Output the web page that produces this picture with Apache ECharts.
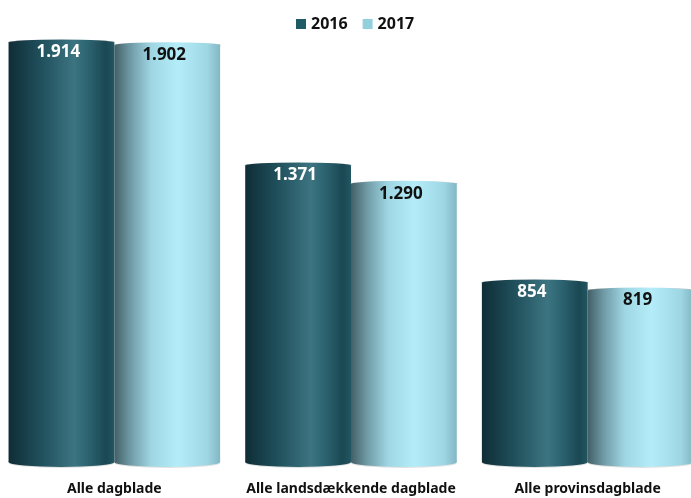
<!DOCTYPE html>
<html><head><meta charset="utf-8">
<script src="https://cdn.jsdelivr.net/npm/echarts@6/dist/echarts.min.js"></script>
<style>html,body{margin:0;padding:0;background:#fff}#c{width:691px;height:498px}</style>
</head><body><div id="c"></div>
<script>
var categories = ['Alle dagblade', 'Alle landsdækkende dagblade', 'Alle provinsdagblade'];
var seriesNames = ['2016', '2017'];
var values2016 = [1914, 1371, 854];
var values2017 = [1902, 1290, 819];

function fmt(v){ return String(v).replace(/\B(?=(\d{3})+(?!\d))/g, '.'); }

var grads = [
  [{offset:0,color:'#0f2d36'},{offset:0.3,color:'#1f4f5b'},{offset:0.62,color:'#3d7481'},{offset:0.74,color:'#2e6572'},{offset:0.92,color:'#1a4853'},{offset:1,color:'#225662'}],
  [{offset:0,color:'#435f67'},{offset:0.15,color:'#6f9aa5'},{offset:0.35,color:'#9fd6e3'},{offset:0.6,color:'#b4edf9'},{offset:0.88,color:'#9fd6e4'},{offset:1,color:'#82b6c3'}]
];
var labelColors = ['#ffffff', '#111111'];

function makeRender(si){
  return function(params, api){
    var idx = api.value(0), val = api.value(1);
    var top = api.coord([idx, val]);
    var base = api.coord([idx, 0]);
    var band = api.size([1, 0])[0];
    var w = band * 0.447;
    var x0 = si === 0 ? top[0] - w : top[0];
    var cx = x0 + w / 2;
    var ryT = 3, ryB = 5;
    var yTop = top[1] + ryT;
    var yBot = base[1] - 11;
    var lg = function(stops){ return new echarts.graphic.LinearGradient(0,0,1,0,stops); };
    return {
      type: 'group',
      children: [
        {type:'circle', x: cx, y: yBot + 1, scaleY: ryB/(w/2), shape:{cx:0,cy:0,r:w/2}, style:{fill:'rgba(0,0,0,0.12)'}},
        {type:'circle', x: cx, y: yBot, scaleY: ryB/(w/2), shape:{cx:0,cy:0,r:w/2}, style:{fill: lg(grads[si])}},
        {type:'circle', x: cx, y: yTop, scaleY: ryT/(w/2), shape:{cx:0,cy:0,r:w/2}, style:{fill: lg(grads[si]), stroke:'rgba(160,160,160,0.8)', lineWidth:1.2}},
        {type:'rect', shape:{x:x0, y:yTop, width:w, height:yBot - yTop}, style:{fill: lg(grads[si])}},
        {type:'text', style:{text: fmt(val), x: cx - 3, y: top[1] + 13, align:'center', verticalAlign:'middle', fill: labelColors[si], font:'bold 17px "Noto Sans", sans-serif'}}
      ]
    };
  };
}

var chart = echarts.init(document.getElementById('c'));
chart.setOption({
  animation: false,
  legend: {
    data: seriesNames, left: 291, top: 11, itemWidth: 10, itemHeight: 10, itemGap: 15,
    icon: 'rect',
    textStyle: {fontFamily: '"Noto Sans", sans-serif', fontWeight: 'bold', fontSize: 16, color: '#111'}
  },
  grid: {left: -4, right: -15, top: 20, bottom: 25, containLabel: false, outerBoundsMode: 'none'},
  xAxis: {
    type: 'category', data: categories,
    axisLine: {show:false}, axisTick: {show:false},
    axisLabel: {margin: 9, fontFamily: '"Noto Sans", sans-serif', fontWeight: 'bold', fontSize: 14, color: '#111', interval: 0}
  },
  yAxis: {type: 'value', min: 0, max: 2000, show: false, splitLine: {show:false}},
  series: [
    {name: seriesNames[0], type: 'custom', renderItem: makeRender(0), itemStyle: {color: '#1f5a66'},
      data: values2016.map(function(v,i){ return [i, v]; }), encode: {x:0, y:1}},
    {name: seriesNames[1], type: 'custom', renderItem: makeRender(1), itemStyle: {color: '#92d0de'},
      data: values2017.map(function(v,i){ return [i, v]; }), encode: {x:0, y:1}}
  ]
});
</script></body></html>
